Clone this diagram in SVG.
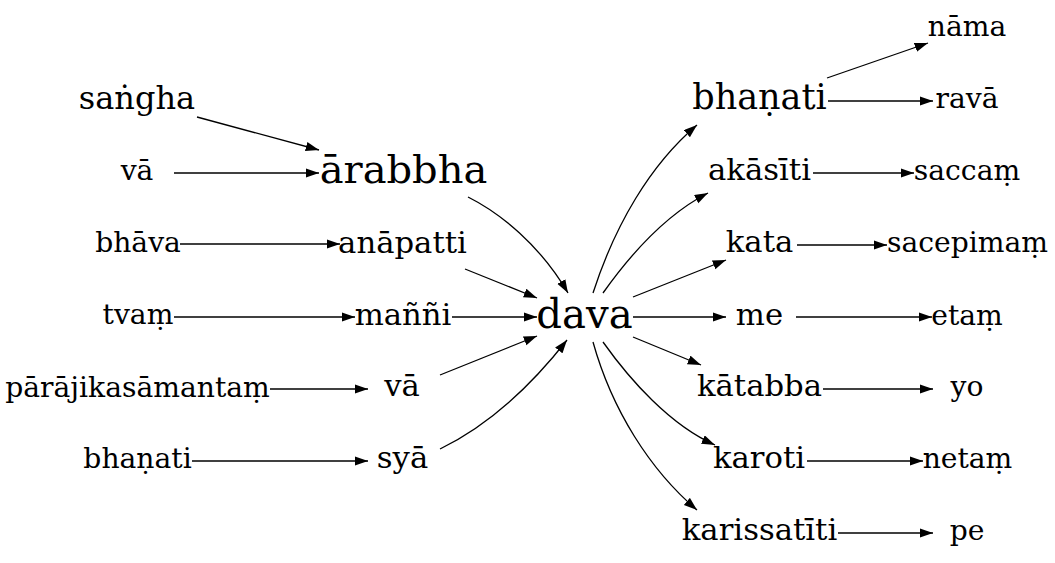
<svg xmlns="http://www.w3.org/2000/svg" width="1055" height="563" viewBox="0 0 1055 563">
<style>
text{font-family:"DejaVu Serif","Liberation Serif",serif;text-anchor:middle;fill:#000}
.s{font-size:28.2px}
.m{font-size:30.7px}
.g{font-size:32px}
.l{font-size:40px}
.x{font-size:40.2px}
.b{font-size:35px}
.e{fill:none;stroke:#000;stroke-width:1.3;marker-end:url(#ah)}
</style>
<defs>
<marker id="ah" markerUnits="userSpaceOnUse" markerWidth="14" markerHeight="10" refX="13.3" refY="4.67" orient="auto" viewBox="0 0 14 10">
<path d="M0,0 L13.3,4.67 L0,9.33 Z" fill="#000"/>
</marker>
</defs>
<rect width="1055" height="563" fill="#fff"/>
<g id="edges">
<path class="e" d="M197,117 L319,150"/>
<path class="e" d="M174,173 L319,173"/>
<path class="e" d="M468,197 C500,213 540,245 568,293"/>
<path class="e" d="M180,244 L340,244"/>
<path class="e" d="M465,269 L537,298"/>
<path class="e" d="M174,317 L355,317"/>
<path class="e" d="M452,317 L537,317"/>
<path class="e" d="M270,389 L368,389"/>
<path class="e" d="M440,375 L537,336"/>
<path class="e" d="M192,461 L368,461"/>
<path class="e" d="M440,449 C475,432 520,400 567,340"/>
<path class="e" d="M593,293 C615,225 650,165 697,125"/>
<path class="e" d="M603,293 C630,255 665,215 708,193"/>
<path class="e" d="M633,297 L726,260"/>
<path class="e" d="M633,317 L726,317"/>
<path class="e" d="M633,337 L701,365"/>
<path class="e" d="M603,342 C630,380 670,425 715,445"/>
<path class="e" d="M593,342 C612,410 650,470 697,510"/>
<path class="e" d="M827,78 L928,43"/>
<path class="e" d="M828,101 L933,101"/>
<path class="e" d="M813,173 L914,173"/>
<path class="e" d="M797,245 L887,245"/>
<path class="e" d="M796,317 L932,317"/>
<path class="e" d="M823,389 L933,389"/>
<path class="e" d="M807,461 L923,461"/>
<path class="e" d="M838,533 L933,533"/>
</g>
<g id="n1"><text class="g" x="137" y="109">saṅgha</text></g>
<g id="n2"><text class="s" x="137" y="180">vā</text></g>
<g id="n3"><text class="s" x="138" y="252">bhāva</text></g>
<g id="n4"><text class="s" x="138" y="324">tvaṃ</text></g>
<g id="n5"><text class="s" x="137.5" y="397">pārājikasāmantaṃ</text></g>
<g id="n6"><text class="s" x="137.5" y="468">bhaṇati</text></g>
<g id="n7"><text class="l" x="403.5" y="183">ārabbha</text></g>
<g id="n8"><text class="m" x="402.5" y="253">anāpatti</text></g>
<g id="n9"><text class="m" x="403" y="325">maññi</text></g>
<g id="n10"><text class="m" x="402" y="396">vā</text></g>
<g id="n11"><text class="m" x="402.5" y="468">syā</text></g>
<g id="n12"><text class="x" x="584.5" y="328">dava</text></g>
<g id="n13"><text class="b" x="759.5" y="109">bhaṇati</text></g>
<g id="n14"><text class="m" x="759.5" y="180">akāsīti</text></g>
<g id="n15"><text class="m" x="759.5" y="252">kata</text></g>
<g id="n16"><text class="m" x="759.5" y="325">me</text></g>
<g id="n17"><text class="m" x="759.5" y="396">kātabba</text></g>
<g id="n18"><text class="m" x="759" y="468">karoti</text></g>
<g id="n19"><text class="m" x="759.5" y="540">karissatīti</text></g>
<g id="n20"><text class="s" x="967" y="36">nāma</text></g>
<g id="n21"><text class="s" x="967" y="108">ravā</text></g>
<g id="n22"><text class="s" x="967" y="180">saccaṃ</text></g>
<g id="n23"><text class="s" x="967.5" y="252">sacepimaṃ</text></g>
<g id="n24"><text class="s" x="967" y="325">etaṃ</text></g>
<g id="n25"><text class="s" x="967" y="396">yo</text></g>
<g id="n26"><text class="s" x="967.5" y="468">netaṃ</text></g>
<g id="n27"><text class="s" x="967" y="540">pe</text></g>
</svg>
